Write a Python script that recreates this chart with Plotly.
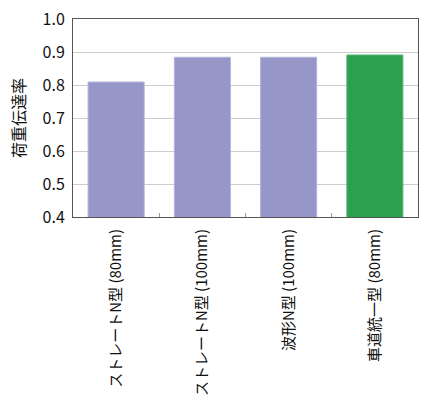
import plotly.graph_objects as go

# 荷重伝達率 by joint type
categories = ['ストレートN型 (80mm)', 'ストレートN型 (100mm)', '波形N型 (100mm)', '車道統一型 (80mm)']
values = [0.809, 0.884, 0.884, 0.891]
bar_colors = ['#9696C8', '#9696C8', '#9696C8', '#2E9E4F']
edge_colors = ['#B4B4DC', '#B4B4DC', '#B4B4DC', '#5CB878']
y_ticks = [0.4, 0.5, 0.6, 0.7, 0.8, 0.9, 1.0]

font_jp = 'Noto Sans CJK JP'

fig = go.Figure()
fig.add_trace(go.Bar(
    x=categories,
    y=values,
    marker=dict(color=bar_colors, line=dict(color=edge_colors, width=1)),
    hoverinfo='skip',
    showlegend=False,
))

fig.update_layout(
    width=429, height=413,
    margin=dict(l=73, r=11, t=19, b=196, autoexpand=False),
    plot_bgcolor='white', paper_bgcolor='white',
    bargap=0.35,
    font=dict(family=font_jp, color='#111111'),
    xaxis=dict(
        automargin=False,
        tickangle=-90,
        tickfont=dict(size=15, family=font_jp, color='#111111'),
        ticks='inside', tickson='boundaries', ticklen=4, tickcolor='#999999',
        showline=True, linecolor='#555555', linewidth=1, mirror=True,
        showgrid=False,
        ticklabelstandoff=5,
    ),
    yaxis=dict(
        automargin=False,
        range=[0.4, 1.0],
        tickvals=y_ticks,
        tickformat='.1f',
        tickfont=dict(size=16, family=font_jp, color='#111111'),
        ticklabeloverflow='allow',
        showgrid=True, gridcolor='#CCCCCC', gridwidth=1,
        showline=True, linecolor='#555555', linewidth=1, mirror=True,
        zeroline=False,
        ticks='', ticklabelstandoff=4,
        title=dict(text='荷重伝達率', font=dict(size=16, family=font_jp, color='#111111'), standoff=12),
    ),
)

# drop the default 8px body margin so the figure fills the window
fig.write_html('out.html', config={'displayModeBar': False},
               post_script="document.body.style.margin='0';")
